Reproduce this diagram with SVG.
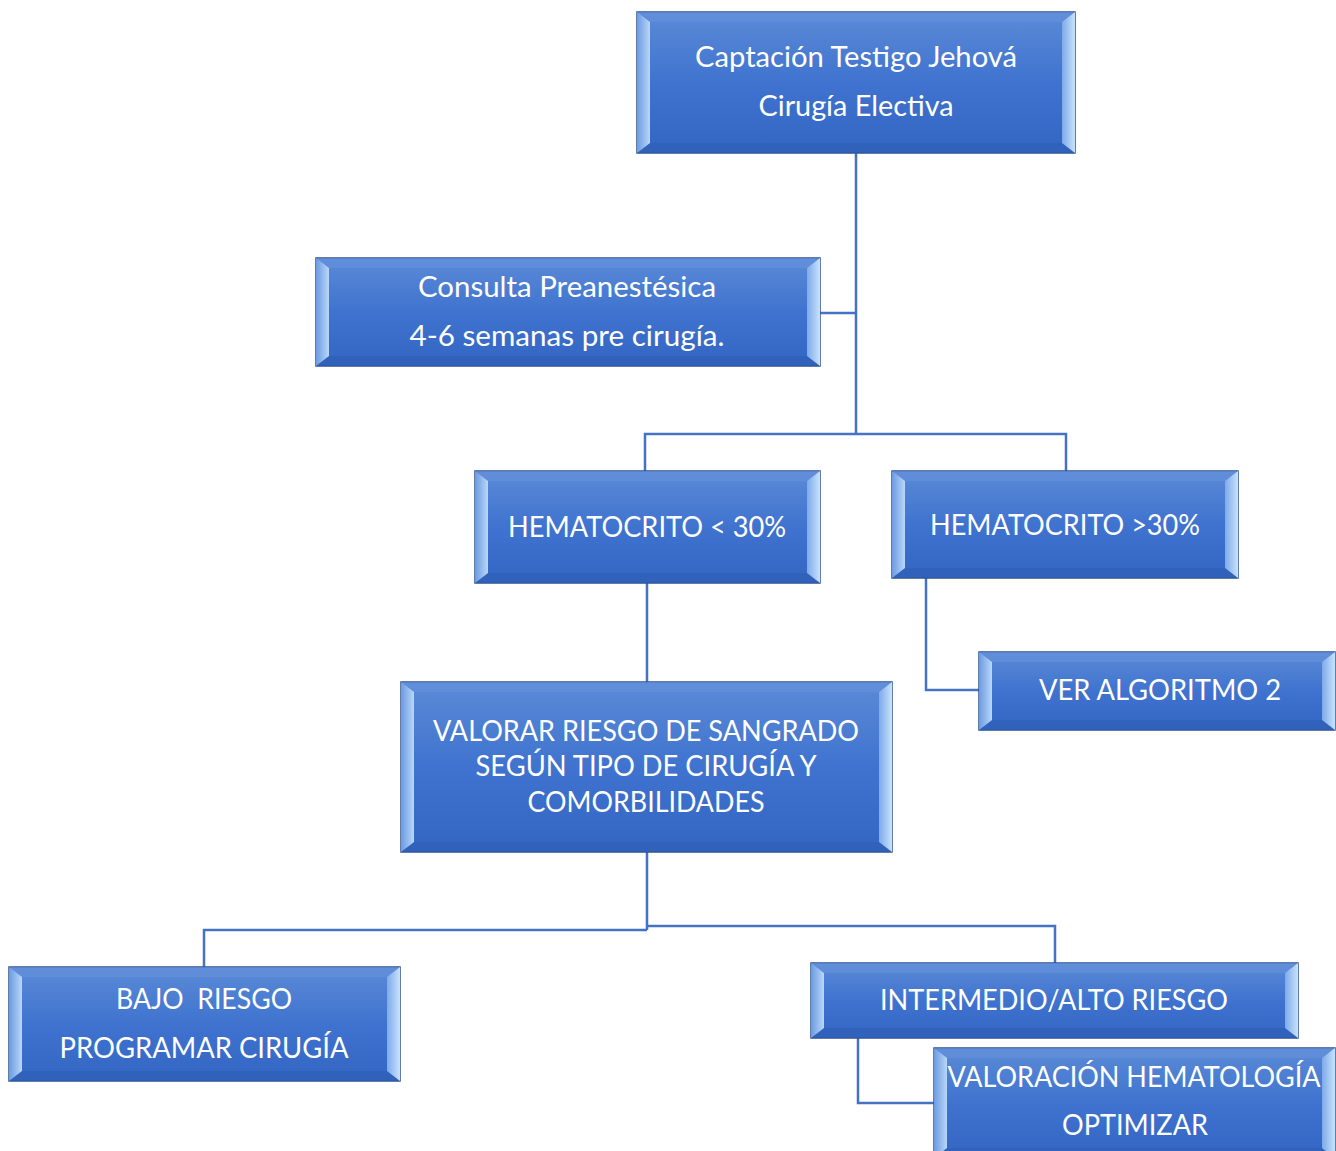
<svg xmlns="http://www.w3.org/2000/svg" width="1336" height="1151" viewBox="0 0 1336 1151">
<defs>
<linearGradient id="face" x1="0" y1="0" x2="0" y2="1">
<stop offset="0" stop-color="#5b8ad6"/>
<stop offset="0.5" stop-color="#3f73cf"/>
<stop offset="1" stop-color="#3366c2"/>
</linearGradient>
<linearGradient id="lb" x1="0" y1="0" x2="1" y2="0">
<stop offset="0" stop-color="#6b9be2"/>
<stop offset="1" stop-color="#b9d7f8"/>
</linearGradient>
<linearGradient id="rb" x1="0" y1="0" x2="1" y2="0">
<stop offset="0" stop-color="#7eaaea"/>
<stop offset="1" stop-color="#c8e2fb"/>
</linearGradient>
</defs>
<style>
.o{fill:url(#face);stroke:#2f528f;stroke-width:1.5}
.t{fill:#6490da;opacity:0.7}
.b{fill:#2f5fb5;opacity:0.6}
.l{fill:url(#lb)}
.r{fill:url(#rb)}
.c{fill:none;stroke:#4472c4;stroke-width:2.5}
text{font-family:Lato,"Liberation Sans",sans-serif;font-size:28px;fill:#ffffff;text-anchor:middle}
</style>
<g id="connectors">
<polyline class="c" points="856,153 856,434"/>
<polyline class="c" points="856,313 820,313"/>
<polyline class="c" points="645,471 645,434 1066,434 1066,471"/>
<polyline class="c" points="647,583 647,682"/>
<polyline class="c" points="926,578 926,690 979,690"/>
<polyline class="c" points="647,852 647,930"/>
<polyline class="c" points="204,967 204,930 647,930"/>
<polyline class="c" points="647,926 1055,926 1055,963"/>
<polyline class="c" points="858,1038 858,1103 934,1103"/>
</g>
<g id="n1">
<rect class="o" x="637" y="12" width="438" height="141"/>
<polygon class="t" points="637,12 1075,12 1062,22 650,22"/>
<polygon class="b" points="637,153 1075,153 1062,143 650,143"/>
<polygon class="l" points="637,12 650,22 650,143 637,153"/>
<polygon class="r" points="1075,12 1062,22 1062,143 1075,153"/>
<text x="856" y="67" textLength="322" lengthAdjust="spacingAndGlyphs">Captación Testigo Jehová</text>
<text x="856" y="116" textLength="195" lengthAdjust="spacingAndGlyphs">Cirugía Electiva</text>
</g>
<g id="n2">
<rect class="o" x="316" y="258" width="504" height="108"/>
<polygon class="t" points="316,258 820,258 807,268 329,268"/>
<polygon class="b" points="316,366 820,366 807,356 329,356"/>
<polygon class="l" points="316,258 329,268 329,356 316,366"/>
<polygon class="r" points="820,258 807,268 807,356 820,366"/>
<text x="567" y="297" textLength="298" lengthAdjust="spacingAndGlyphs">Consulta Preanestésica</text>
<text x="567" y="346" textLength="315" lengthAdjust="spacingAndGlyphs">4-6 semanas pre cirugía.</text>
</g>
<g id="n3">
<rect class="o" x="475" y="471" width="345" height="112"/>
<polygon class="t" points="475,471 820,471 807,481 488,481"/>
<polygon class="b" points="475,583 820,583 807,573 488,573"/>
<polygon class="l" points="475,471 488,481 488,573 475,583"/>
<polygon class="r" points="820,471 807,481 807,573 820,583"/>
<text x="647" y="537" textLength="278" lengthAdjust="spacingAndGlyphs">HEMATOCRITO &lt; 30%</text>
</g>
<g id="n4">
<rect class="o" x="892" y="471" width="346" height="107"/>
<polygon class="t" points="892,471 1238,471 1225,481 905,481"/>
<polygon class="b" points="892,578 1238,578 1225,568 905,568"/>
<polygon class="l" points="892,471 905,481 905,568 892,578"/>
<polygon class="r" points="1238,471 1225,481 1225,568 1238,578"/>
<text x="1065" y="535" textLength="270" lengthAdjust="spacingAndGlyphs">HEMATOCRITO &gt;30%</text>
</g>
<g id="n5">
<rect class="o" x="979" y="652" width="356" height="78"/>
<polygon class="t" points="979,652 1335,652 1322,662 992,662"/>
<polygon class="b" points="979,730 1335,730 1322,720 992,720"/>
<polygon class="l" points="979,652 992,662 992,720 979,730"/>
<polygon class="r" points="1335,652 1322,662 1322,720 1335,730"/>
<text x="1160" y="700" textLength="242" lengthAdjust="spacingAndGlyphs">VER ALGORITMO 2</text>
</g>
<g id="n6">
<rect class="o" x="401" y="682" width="491" height="170"/>
<polygon class="t" points="401,682 892,682 879,692 414,692"/>
<polygon class="b" points="401,852 892,852 879,842 414,842"/>
<polygon class="l" points="401,682 414,692 414,842 401,852"/>
<polygon class="r" points="892,682 879,692 879,842 892,852"/>
<text x="646" y="741" textLength="426" lengthAdjust="spacingAndGlyphs">VALORAR RIESGO DE SANGRADO</text>
<text x="646" y="776" textLength="341" lengthAdjust="spacingAndGlyphs">SEGÚN TIPO DE CIRUGÍA Y</text>
<text x="646" y="812" textLength="237" lengthAdjust="spacingAndGlyphs">COMORBILIDADES</text>
</g>
<g id="n7">
<rect class="o" x="9" y="967" width="391" height="114"/>
<polygon class="t" points="9,967 400,967 387,977 22,977"/>
<polygon class="b" points="9,1081 400,1081 387,1071 22,1071"/>
<polygon class="l" points="9,967 22,977 22,1071 9,1081"/>
<polygon class="r" points="400,967 387,977 387,1071 400,1081"/>
<text x="204" y="1009" textLength="176" lengthAdjust="spacingAndGlyphs" xml:space="preserve">BAJO  RIESGO</text>
<text x="204" y="1058" textLength="289" lengthAdjust="spacingAndGlyphs">PROGRAMAR CIRUGÍA</text>
</g>
<g id="n8">
<rect class="o" x="811" y="963" width="487" height="75"/>
<polygon class="t" points="811,963 1298,963 1285,973 824,973"/>
<polygon class="b" points="811,1038 1298,1038 1285,1028 824,1028"/>
<polygon class="l" points="811,963 824,973 824,1028 811,1038"/>
<polygon class="r" points="1298,963 1285,973 1285,1028 1298,1038"/>
<text x="1054" y="1010" textLength="348" lengthAdjust="spacingAndGlyphs">INTERMEDIO/ALTO RIESGO</text>
</g>
<g id="n9">
<rect class="o" x="934" y="1048" width="401" height="110"/>
<polygon class="t" points="934,1048 1335,1048 1322,1058 947,1058"/>
<polygon class="b" points="934,1158 1335,1158 1322,1148 947,1148"/>
<polygon class="l" points="934,1048 947,1058 947,1148 934,1158"/>
<polygon class="r" points="1335,1048 1322,1058 1322,1148 1335,1158"/>
<text x="1134" y="1087" textLength="373" lengthAdjust="spacingAndGlyphs">VALORACIÓN HEMATOLOGÍA</text>
<text x="1135" y="1135" textLength="146" lengthAdjust="spacingAndGlyphs">OPTIMIZAR</text>
</g>
</svg>
